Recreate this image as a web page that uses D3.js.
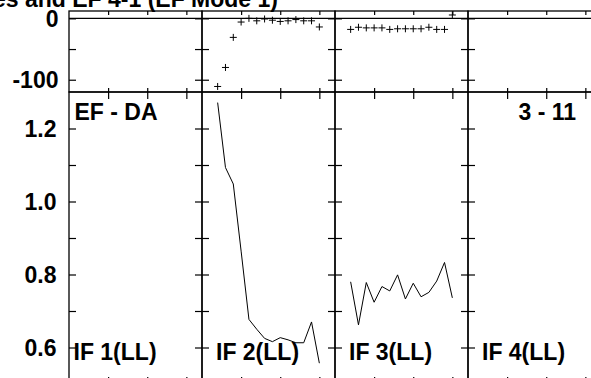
<!DOCTYPE html>
<html><head><meta charset="utf-8">
<script src="https://cdn.jsdelivr.net/npm/d3@7"></script>
<style>
body{margin:0;background:#fff;overflow:hidden}
svg{display:block}
text{font-family:"Liberation Sans",Arial,Helvetica,sans-serif;font-weight:bold;fill:#000}
</style>
</head><body><svg id="c" width="591" height="378"></svg>
<script>
// ---- data ----
const modeIndex = [2,3,4,5,6,7,8,9,10,11,12,13,14,15];
const panelLabels = ["IF 1(LL)","IF 2(LL)","IF 3(LL)","IF 4(LL)"];
const topPanel2 = [-111,-80,-31,-6,0,-4,-1,-3,-5,-4,-2,-4,-4,-14];
const topPanel3 = [-18,-14.5,-15.5,-15.5,-15.5,-18,-17,-17,-17,-17,-14.5,-18,-18,5.5];
const bottomPanel2 = [1.271,1.093,1.048,0.864,0.677,0.650,0.625,0.616,0.627,0.621,0.613,0.613,0.670,0.557];
const bottomPanel3 = [0.780,0.662,0.778,0.724,0.767,0.755,0.799,0.733,0.776,0.739,0.751,0.782,0.833,0.736];
const topTicks = [-100,-50,0];
const topTickLabels = ["-100","","0"];
const bottomTicks = [0.6,0.7,0.8,0.9,1.0,1.1,1.2];
const bottomTickLabels = ["0.6","","0.8","","1.0","","1.2"];
const xTicks = [5,10,15];
const titleText = "Amplitudes and EF 4-1 (EF Mode 1)";
const cornerLeft = "EF - DA";
const cornerRight = "3 - 11";

const topSeries = [null, topPanel2, topPanel3, null];
const bottomSeries = [null, bottomPanel2, bottomPanel3, null];

// ---- layout ----
const svg = d3.select("#c");
const L = 69, W = 133, nP = 4;
const topY0 = 11, midY = 92, botY = 384;
const yTop = d3.scaleLinear().domain([-120, 12]).range([midY, topY0]);
const yBot = d3.scaleLinear().domain([0.5, 1.3]).range([botY, midY]);
const xS = d3.range(nP).map(i => d3.scaleLinear().domain([0, 17]).range([L + i*W, L + (i+1)*W]));
const FS = 23;

function styleAxis(g){
  g.select(".domain").remove();
  g.selectAll(".tick text").remove();
  g.selectAll(".tick line").attr("stroke","#000").attr("stroke-width",1.2);
}

for (let p = 0; p < nP; p++) {
  const x = xS[p];
  // x ticks
  svg.append("g").attr("transform",`translate(0,${topY0})`)
    .call(d3.axisBottom(x).tickValues(xTicks).tickSize(4)).call(styleAxis);
  svg.append("g").attr("transform",`translate(0,${midY})`)
    .call(d3.axisTop(x).tickValues(xTicks).tickSize(4)).call(styleAxis);
  svg.append("g").attr("transform",`translate(0,${midY})`)
    .call(d3.axisBottom(x).tickValues(xTicks).tickSize(7)).call(styleAxis);
  svg.append("g").attr("transform",`translate(0,${botY})`)
    .call(d3.axisTop(x).tickValues(xTicks).tickSize(7)).call(styleAxis);
  // y ticks
  const xl = x.range()[0], xr = x.range()[1];
  svg.append("g").attr("transform",`translate(${xl},0)`)
    .call(d3.axisRight(yTop).tickValues(topTicks).tickSize(7)).call(styleAxis);
  svg.append("g").attr("transform",`translate(${xr},0)`)
    .call(d3.axisLeft(yTop).tickValues(topTicks).tickSize(7)).call(styleAxis);
  svg.append("g").attr("transform",`translate(${xl},0)`)
    .call(d3.axisRight(yBot).tickValues(bottomTicks).tickSize(7)).call(styleAxis);
  svg.append("g").attr("transform",`translate(${xr},0)`)
    .call(d3.axisLeft(yBot).tickValues(bottomTicks).tickSize(7)).call(styleAxis);
  // borders
  svg.append("rect").attr("x",xl).attr("y",topY0).attr("width",xr-xl).attr("height",midY-topY0)
    .attr("fill","none").attr("stroke","#000").attr("stroke-width",1.3);
  svg.append("rect").attr("x",xl).attr("y",midY).attr("width",xr-xl).attr("height",botY-midY)
    .attr("fill","none").attr("stroke","#000").attr("stroke-width",1.3);

  // top series (plus markers)
  if (topSeries[p]) {
    svg.append("g").selectAll("path").data(topSeries[p]).join("path")
      .attr("d","M-3.5,0H3.5M0,-3.5V3.5")
      .attr("transform",(v,i)=>`translate(${x(modeIndex[i])},${yTop(v)})`)
      .attr("stroke","#000").attr("stroke-width",1).attr("fill","none");
  }
  // bottom series (line)
  if (bottomSeries[p]) {
    const line = d3.line().x((v,i)=>x(modeIndex[i])).y(v=>yBot(v));
    svg.append("path").datum(bottomSeries[p]).attr("d",line)
      .attr("fill","none").attr("stroke","#000").attr("stroke-width",1);
  }
  // panel label
  svg.append("text").attr("x", xl + (p===0 ? 4.5 : 14)).attr("y", 359.5)
    .attr("font-size",FS).text(panelLabels[p]);
}

// zero line across the top panel
svg.append("line").attr("x1",xS[0](0)).attr("x2",xS[nP-1](17))
  .attr("y1",yTop(0)).attr("y2",yTop(0)).attr("stroke","#000").attr("stroke-width",1.2);

// y tick labels
svg.append("g").selectAll("text").data(topTicks).join("text")
  .attr("x",58.5).attr("y",v=>yTop(v)+8.5).attr("text-anchor","end").attr("font-size",FS)
  .text((v,i)=>topTickLabels[i]);
svg.append("g").selectAll("text").data(bottomTicks).join("text")
  .attr("x",56.5).attr("y",v=>yBot(v)+8.5).attr("text-anchor","end").attr("font-size",FS)
  .text((v,i)=>bottomTickLabels[i]);

// corner labels
svg.append("text").attr("x",74.5).attr("y",119.5).attr("font-size",FS).text(cornerLeft);
svg.append("text").attr("x",576).attr("y",119.5).attr("text-anchor","end").attr("font-size",FS).text(cornerRight);

// title (partly above the window)
svg.append("text").attr("x",278).attr("y",7).attr("text-anchor","end").attr("font-size",FS).text(titleText);
</script>
</body></html>
